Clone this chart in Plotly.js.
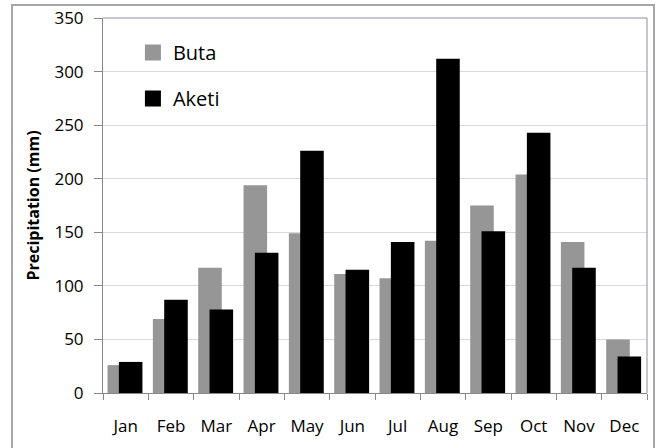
<!DOCTYPE html>
<html>
<head>
<meta charset="utf-8">
<script src="https://cdn.plot.ly/plotly-3.0.1.min.js"></script>
<style>
  html, body { margin: 0; padding: 0; background: #fff; }
  #chart { width: 658px; height: 448px; }
  #frame { position: absolute; left: 11px; top: 4px; width: 640px; height: 460px;
           border: 2px solid #a6a6a6; pointer-events: none; }
</style>
</head>
<body>
<div id="chart"></div>
<div id="frame"></div>
<script>
const months = ['Jan', 'Feb', 'Mar', 'Apr', 'May', 'Jun', 'Jul', 'Aug', 'Sep', 'Oct', 'Nov', 'Dec'];
const buta = [26, 69, 117, 194, 149, 111, 107, 142, 175, 204, 141, 50];
const aketi = [29, 87, 78, 131, 226, 115, 141, 312, 151, 243, 117, 34];

const font = "'Open Sans', 'Liberation Sans', sans-serif";
const grey = '#969696';

// bars, then legend-only entries with a bigger square swatch
const traces = [
  {
    name: 'Buta', type: 'bar', x: months, y: buta,
    marker: { color: grey },
    offset: -0.4, width: 0.52, showlegend: false
  },
  {
    name: 'Aketi', type: 'bar', x: months, y: aketi,
    marker: { color: '#000' },
    offset: -0.15, width: 0.52, showlegend: false
  },
  {
    name: 'Buta', type: 'scatter', mode: 'markers', x: [null], y: [null],
    marker: { color: grey, symbol: 'square', size: 16 }, legendgroup: 'a'
  },
  {
    name: 'Aketi', type: 'scatter', mode: 'markers', x: [null], y: [null],
    marker: { color: '#000', symbol: 'square', size: 16 }, legendgroup: 'b'
  }
];

const layout = {
  width: 658, height: 448,
  margin: { l: 103, r: 11, t: 18, b: 55 },
  paper_bgcolor: 'rgba(0,0,0,0)',
  plot_bgcolor: '#fff',
  font: { family: font, size: 17, color: '#000' },
  barmode: 'overlay',
  showlegend: true,
  legend: {
    x: 0.055, y: 0.96, xanchor: 'left', yanchor: 'top',
    bgcolor: 'rgba(0,0,0,0)', font: { size: 20 },
    tracegroupgap: 17
  },
  xaxis: {
    type: 'category', range: [-0.5, 11.5],
    showline: true, linecolor: '#888', linewidth: 1,
    ticks: 'outside', tickson: 'boundaries', ticklen: 6, tickcolor: '#888',
    ticklabelstandoff: 18,
    showgrid: false, zeroline: false
  },
  yaxis: {
    range: [0, 350], dtick: 50,
    showline: true, linecolor: '#888', linewidth: 1,
    ticks: 'outside', ticklen: 8, tickcolor: '#888',
    ticklabelstandoff: 7,
    gridcolor: '#d9d9d9', zeroline: false,
    title: { text: '<b>Precipitation (mm)</b>', font: { size: 16 }, standoff: 10 }
  },
  shapes: [
    { type: 'rect', xref: 'paper', yref: 'paper', x0: 0.028, x1: 0.28, y0: 0.76, y1: 0.965,
      fillcolor: '#fff', line: { width: 0 }, layer: 'below' },
    { type: 'line', xref: 'paper', yref: 'paper', x0: 0, x1: 1, y0: 1, y1: 1,
      line: { color: '#8c8cab', width: 1 } },
    { type: 'line', xref: 'paper', yref: 'paper', x0: 1, x1: 1, y0: 0, y1: 1,
      line: { color: '#8c8cab', width: 1 } }
  ]
};

Plotly.newPlot('chart', traces, layout, { displayModeBar: false, staticPlot: true });
</script>
</body>
</html>
